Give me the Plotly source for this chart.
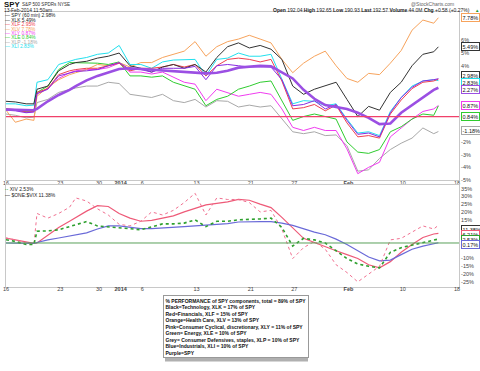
import plotly.graph_objects as go

# ---------------- data ----------------
trade_days = ["2013-12-16", "2013-12-17", "2013-12-18", "2013-12-19", "2013-12-20",
              "2013-12-23", "2013-12-24", "2013-12-26", "2013-12-27", "2013-12-30", "2013-12-31",
              "2014-01-02", "2014-01-03", "2014-01-06", "2014-01-07", "2014-01-08", "2014-01-09", "2014-01-10",
              "2014-01-13", "2014-01-14", "2014-01-15", "2014-01-16", "2014-01-17",
              "2014-01-21", "2014-01-22", "2014-01-23", "2014-01-24",
              "2014-01-27", "2014-01-28", "2014-01-29", "2014-01-30", "2014-01-31",
              "2014-02-03", "2014-02-04", "2014-02-05", "2014-02-06", "2014-02-07",
              "2014-02-10", "2014-02-11", "2014-02-12", "2014-02-13"]
future_days = ["2014-02-14", "2014-02-18"]
short_sessions = {"2013-12-24": 4}
hourly_bars = 7
last_session_bars = 3
intraday_extra = {"2013-12-18": [4]}   # 13:30 bar, just before the FOMC jump

tick_days = ["2013-12-16", "2013-12-23", "2013-12-30", "2014-01-02", "2014-01-06", "2014-01-13",
             "2014-01-21", "2014-01-27", "2014-02-03", "2014-02-10", "2014-02-18"]
tick_text = ["16", "23", "30", "<b>2014</b>", "6", "13", "21", "27", "<b>Feb</b>", "10", "18"]

# % performance: first bar, Dec16 close, Dec17 close, Dec18 13:30, then each session close
xlk = [1.2, 1.15, 1.0, 1.0, 2.15, 2.4, 3.6, 4.1, 4.25, 4.35, 4.6, 4.75, 5.0, 4.0, 3.8, 3.5, 3.9, 4.1, 3.8, 4.1, 3.5,
       4.65, 5.5, 5.8, 5.4, 5.6, 5.3, 4.5, 2.4, 1.75, 2.15, 2.4, 2.7, 1.35, 0.0, 0.8, 0.5, 1.9, 2.7, 4.0, 4.9, 5.1, 5.49]
xlf = [0.6, 0.55, 0.35, 0.4, 1.9, 2.2, 3.3, 3.6, 3.7, 3.8, 3.8, 4.0, 4.2, 3.6, 3.8, 3.8, 3.9, 4.1, 3.9, 4.1, 3.2,
       4.0, 4.5, 4.6, 4.5, 4.3, 4.5, 2.8, 0.6, 0.7, 0.95, 0.45, 0.9, -0.5, -1.6, -1.5, -1.7, 0.2, 1.3, 2.2, 2.7, 2.8, 2.95]
xlv = [0.5, -0.45, -0.2, -0.3, 1.6, 2.3, 2.9, 3.3, 3.45, 3.7, 4.1, 4.0, 4.25, 3.9, 4.25, 4.25, 4.65, 4.9, 5.15, 5.9, 4.75,
       5.5, 5.9, 6.1, 6.4, 6.1, 5.8, 4.5, 3.45, 4.2, 4.75, 5.15, 4.0, 3.0, 2.7, 3.4, 3.3, 4.2, 5.2, 6.8, 7.6, 7.35, 7.78]
xly = [0.6, 0.55, 0.35, 0.4, 1.8, 2.2, 3.0, 3.45, 3.6, 3.7, 3.7, 3.85, 4.2, 3.5, 3.5, 3.35, 3.5, 3.1, 2.7, 2.55, 1.25,
       2.15, 1.9, 1.6, 1.75, 1.9, 1.75, 0.6, -0.85, -1.1, -0.85, -1.1, -1.1, -2.55, -4.5, -4.0, -3.6, -1.6, -0.9, -0.2, 0.4, 0.6, 0.87]
xle = [0.6, 0.5, 0.4, 0.45, 1.9, 2.4, 3.7, 4.25, 4.25, 4.25, 4.2, 4.1, 4.3, 3.2, 3.2, 3.1, 3.2, 2.7, 2.4, 2.15, 0.85,
       1.35, 1.6, 2.15, 2.4, 2.7, 2.8, 1.25, -0.3, 0.0, 0.2, 0.0, -0.2, -2.0, -2.8, -2.9, -2.6, -1.2, -0.8, -0.2, 0.2, 0.1, 0.84]
xlp = [0.2, 0.1, -0.1, -0.05, 1.1, 1.35, 1.9, 2.15, 2.25, 2.4, 2.4, 2.7, 2.6, 1.75, 1.6, 1.5, 1.75, 1.25, 1.1, 1.35, 0.75,
       1.25, 1.2, 0.75, 0.9, 0.75, 0.85, -0.2, -1.2, -1.35, -1.2, -1.5, -1.45, -2.3, -4.3, -4.2, -3.3, -2.6, -2.1, -1.7, -0.9, -1.35, -1.18]
xli = [1.0, 1.0, 0.85, 0.9, 2.7, 2.9, 4.1, 4.35, 4.5, 4.65, 4.9, 5.0, 5.6, 4.1, 4.1, 3.8, 4.3, 4.45, 4.45, 4.5, 3.2,
       4.5, 4.6, 5.0, 4.75, 4.75, 4.9, 2.9, 1.0, 1.25, 1.2, 0.85, 1.0, -0.2, -1.3, -1.2, -1.5, 0.4, 1.5, 2.4, 2.8, 2.9, 2.83]
spy = [0.5, 0.45, 0.3, 0.35, 1.8, 2.15, 3.2, 3.45, 3.55, 3.6, 3.7, 4.0, 4.25, 3.7, 3.7, 3.5, 3.8, 3.8, 3.8, 3.95, 2.9,
       4.0, 4.1, 4.0, 3.9, 3.9, 3.9, 2.9, 0.85, 0.95, 1.25, 0.6, 0.95, -0.3, -1.4, -1.3, -1.6, 0.3, 1.5, 2.3, 2.8, 2.9, 2.98]
spy_ma = [0.55, 0.55, 0.5, 0.5, 0.6, 1.2, 1.7, 2.1, 2.4, 2.85, 3.2, 3.5, 3.75, 3.8, 3.75, 3.65, 3.6, 3.55, 3.5, 3.45, 3.4,
          3.45, 3.6, 3.85, 3.9, 4.0, 3.95, 3.5, 3.0, 2.1, 1.4, 0.9, 0.75, 0.6, 0.3, -0.1, -0.6, -0.55, 0.3, 0.9, 1.5, 2.1, 2.27]

inv_vix = [3.2, 2.0, 0.0, -1.0, 19, 16, 19, 23, 29, 27, 22, 18, 12, 11, 14, 20, 18, 21, 26, 32, 18, 29,
           28, 28, 26, 20, 21, 9, -10, -3, 1, -4, -14, -19, -25, -20, -15, 2, 3, 7, 11, 9, 11.38]
inv_vix_ma = [3.2, 2.0, 0.5, -0.3, 0.0, 5, 10, 14, 16.5, 20.5, 24, 23.5, 19, 16, 14, 14.5, 16, 17.5, 20, 22, 24.5,
              25.5, 26.5, 28, 27.5, 25, 22.8, 16.5, 10, 3, 0.3, -2.5, -5, -7.5, -10, -14, -16, -12, -6, -1, 3.5, 5.8, 6.2]
xiv = [2.1, 1.0, -1.0, -1.0, 7.6, 7.8, 8.5, 10.5, 12, 13.8, 11, 10.5, 10, 9.2, 8.5, 10.5, 12.3, 12.3, 12.8, 14.9, 10.5,
       14, 14, 14.9, 15, 15.5, 16, 10, -2, 3, 2, 0, -5, -10, -13.5, -15, -16, -6, -3, -1.5, 0.5, 2, 2.53]
xiv_ma = [0, 0, -0.2, -0.2, 0.3, 2, 3.2, 4.5, 5.3, 6.5, 9, 11, 11, 10, 9.2, 9.2, 9.5, 10, 10.5, 11, 11.5,
          12, 12.5, 13.5, 13.8, 13.8, 13.8, 12.8, 11.3, 9, 7, 5.3, 2.5, -1.0, -4.8, -9, -11.5, -11, -7.5, -4, -2, -0.5, 0.17]

zero_level = 0

notes = ["% PERFORMANCE of SPY components, total = 89% of SPY",
         "Black=Technology, XLK = 17% of SPY",
         "Red=Financials, XLF = 15% of SPY",
         "Orange=Health Care, XLV = 13% of SPY",
         "Pink=Consumer Cyclical, discretionary, XLY = 11% of SPY",
         "Green= Energy, XLE = 10% of SPY",
         "Grey= Consumer Defensives, staples, XLP = 10% of SPY",
         "Blue=Industrials, XLI = 10% of SPY",
         "Purple=SPY"]

# ---------------- session -> bar position ----------------
start = {}
pos = 0
for d in trade_days + future_days:
    start[d] = pos
    pos += short_sessions.get(d, hourly_bars)
xs = [start[trade_days[0]]]
for d in trade_days:
    for b in intraday_extra.get(d, []):
        xs.append(start[d] + b)
    nb = last_session_bars if d == trade_days[-1] else short_sessions.get(d, hourly_bars)
    xs.append(start[d] + nb - 1)
tickvals = [start[d] for d in tick_days]

# ---------------- geometry ----------------
W, H = 480, 371
ML, MR = 6, 21
PW = W - ML - MR


def py(p):
    return 1 - p / H


def px(p):
    return (p - ML) / PW


FONT = "Liberation Sans, Arial, sans-serif"
fig = go.Figure()

top_series = [
    (xlp, "#a8a8a8", 1), (xly, "#f03cf0", 1), (xle, "#2fcc2f", 1), (xlv, "#f7a35c", 1),
    (xli, "#22e0ee", 1), (xlf, "#ee4050", 1), (xlk, "#333333", 1), (spy, "#8a2be2", 1),
    (spy_ma, "#9b4fe3", 2.6),
]
for vals, col, w in top_series:
    fig.add_trace(go.Scatter(x=xs, y=vals, mode="lines", line=dict(color=col, width=w),
                             xaxis="x", yaxis="y", showlegend=False, hoverinfo="skip"))

fig.add_trace(go.Scatter(x=xs, y=inv_vix_ma, mode="lines", line=dict(color="#ee5a78", width=1.2),
                         xaxis="x2", yaxis="y2", showlegend=False, hoverinfo="skip"))
fig.add_trace(go.Scatter(x=xs, y=xiv_ma, mode="lines", line=dict(color="#6a6ad8", width=1.2),
                         xaxis="x2", yaxis="y2", showlegend=False, hoverinfo="skip"))
fig.add_trace(go.Scatter(x=xs, y=inv_vix, mode="lines", line=dict(color="#f07090", width=1, dash="dot"),
                         xaxis="x2", yaxis="y2", showlegend=False, hoverinfo="skip"))
fig.add_trace(go.Scatter(x=xs, y=xiv, mode="lines", line=dict(color="#2ea02e", width=1.6, dash="dot"),
                         xaxis="x2", yaxis="y2", showlegend=False, hoverinfo="skip"))

# reference lines
fig.add_shape(type="line", xref="x domain", yref="y", x0=0, x1=1, y0=zero_level, y1=zero_level,
              line=dict(color="#f0406a", width=1.2))
fig.add_shape(type="line", xref="x2 domain", yref="y2", x0=0, x1=1, y0=zero_level, y1=zero_level,
              line=dict(color="#5aa05a", width=1))

xrange = [0, 292.3]
tickfont = dict(family=FONT, size=5.5, color="#444")
axcommon = dict(range=xrange, tickmode="array", tickvals=tickvals, ticktext=tick_text,
                showgrid=False, zeroline=False, showline=True, mirror=True, linecolor="#c8c8c8",
                linewidth=1, ticks="", tickfont=tickfont, ticklabelstandoff=-3)
yax = dict(showgrid=False, zeroline=False, showline=True, mirror=True, linecolor="#c8c8c8",
           linewidth=1, ticks="", side="right", tickfont=tickfont)

top_ticks = [6, 5, 4, -2, -3, -4, -5]
mid_ticks = [35, 30, 25, 20, 15, -10, -15, -20, -25]

fig.update_layout(
    width=W, height=H, margin=dict(l=ML, r=MR, t=0, b=0),
    paper_bgcolor="white", plot_bgcolor="white",
    font=dict(family=FONT, size=6, color="#222"),
    xaxis=dict(axcommon, domain=[0, 1], anchor="y"),
    xaxis2=dict(axcommon, domain=[0, 1], anchor="y2", matches="x"),
    xaxis3=dict(axcommon, domain=[0, 1], anchor="y3", matches="x"),
    yaxis=dict(yax, domain=[py(181.5), py(12)], range=[-5.0, 8.24], anchor="x",
               tickvals=top_ticks, ticktext=[f"{v}%" for v in top_ticks]),
    yaxis2=dict(yax, domain=[py(289), py(187)], range=[-28.1, 37.0], anchor="x2",
                tickvals=mid_ticks, ticktext=[f"{v}%" for v in mid_ticks]),
    yaxis3=dict(yax, domain=[py(362), py(297)], range=[0, 1], anchor="x3", showticklabels=False),
)

ann = []


def txt(x, y, text, size=5.5, color="#222", anchor="left", **kw):
    ann.append(dict(xref="paper", yref="paper", x=px(x), y=py(y), text=text, showarrow=False,
                    xanchor=anchor, yanchor="middle", font=dict(family=FONT, size=size, color=color), **kw))


# header
txt(2, 4.3, "<b>SPY</b>", size=7.8, color="#111")
txt(20, 4.8, "S&P 500 SPDRs NYSE", size=4.6, color="#333")
txt(2, 10.8, "13-Feb-2014 11:50am", size=4.9, color="#222")
txt(456, 4, "@StockCharts.com", size=5, color="#666", anchor="right")
txt(472, 10.5, "<b>Open</b> 192.04 <b>High</b> 192.65 <b>Low</b> 190.93 <b>Last</b> 192.57 "
    "<b>Volume</b> 44.0M <b>Chg</b> +0.58 (+0.27%)", size=5, color="#222", anchor="right")
txt(473, 10.5, "\u25b2", size=4.5, color="#2a9a2a")

# top legend
legend_top = [("#333333", "SPY (60 min) 2.98%", "#222"), ("#333333", "XLK 5.49%", "#222"),
              ("#ee4050", "XLF 2.95%", "#ee4050"), ("#f7a35c", "XLV 7.78%", "#f7a35c"),
              ("#f03cf0", "XLY 0.87%", "#f03cf0"), ("#2fcc2f", "XLE 0.84%", "#2fcc2f"),
              ("#a8a8a8", "XLP -1.18%", "#a8a8a8"), ("#22e0ee", "XLI 2.83%", "#22e0ee")]
for i, (lc, t, tc) in enumerate(legend_top):
    txt(3, 15.8 + i * 4.5, f"<span style='color:{lc}'>\u2014</span> {t}", size=4.9, color=tc)

# middle legend
txt(3, 190.5, "<span style='color:#2ea02e'><b>\u00b7\u00b7</b></span> XIV 2.53%", size=5, color="#222")
txt(3, 196.5, "<span style='color:#111'>\u2014</span> $ONE:$VIX 11.38%", size=5, color="#222")


def box(y, text, col):
    ann.append(dict(xref="paper", yref="paper", x=px(461), y=py(y), text=text, showarrow=False,
                    xanchor="left", yanchor="middle", font=dict(family=FONT, size=5.5, color="#111"),
                    bordercolor=col, borderwidth=1, borderpad=0.5, bgcolor="white"))


box(17.5, "7.78%", "#f7a35c")
box(47, "5.49%", "#333333")
box(76.5, "2.98%", "#333333")
box(83.5, "2.83%", "#22e0ee")
box(90.5, "2.27%", "#9b4fe3")
box(106, "0.87%", "#f03cf0")
box(117, "0.84%", "#2fcc2f")
box(131.5, "-1.18%", "#a8a8a8")

box(231, "11.38%", "#333333")
box(236, "6.21%", "#ee5a78")
box(241, "2.53%", "#2ea02e")
box(246, "0.17%", "#6a6ad8")

# note box with shadow
fig.add_shape(type="rect", xref="paper", yref="paper", x0=px(165), x1=px(308), y0=py(364.5), y1=py(300),
              fillcolor="#b0b0b0", line=dict(width=0), layer="above")
ann.append(dict(xref="paper", yref="paper", x=px(163), y=py(297.5), xanchor="left", yanchor="top",
                text="<br>".join(f"<b>{n}</b>" for n in notes), showarrow=False, align="left",
                font=dict(family=FONT, size=5, color="#111"), bgcolor="white",
                bordercolor="#999", borderwidth=1, borderpad=1.5))

fig.update_layout(annotations=ann)
fig.write_html("out.html", config={"displayModeBar": False, "staticPlot": True},
               post_script="document.body.style.margin='0';document.body.style.overflow='hidden';")
